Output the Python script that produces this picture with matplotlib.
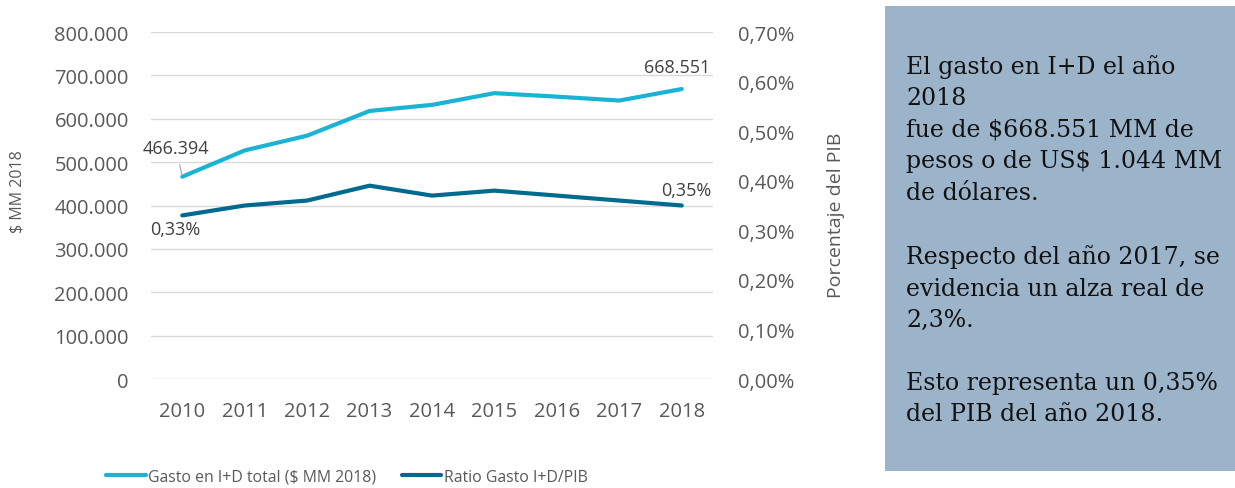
import matplotlib.pyplot as plt
from matplotlib.ticker import FuncFormatter
from matplotlib.patches import Rectangle

years = ["2010", "2011", "2012", "2013", "2014", "2015", "2016", "2017", "2018"]
gasto = [466394, 527000, 561000, 618000, 632000, 659000, 651000, 642000, 668551]
ratio = [0.0033, 0.0035, 0.0036, 0.0039, 0.0037, 0.0038, 0.0037, 0.0036, 0.0035]

C_GASTO = "#1AB3D3"
C_RATIO = "#006B8F"
C_TEXT = "#595959"
C_GRID = "#D9D9D9"
SANS = "Open Sans"

fig = plt.figure(figsize=(12.35, 4.89), dpi=100)
ax = fig.add_axes([0.1223, 0.2229, 0.4550, 0.7096])
ax2 = ax.twinx()

x = list(range(len(years)))
ax.plot(x, gasto, color=C_GASTO, lw=3, solid_capstyle="round",
        label="Gasto en I+D total ($ MM 2018)")
ax2.plot(x, ratio, color=C_RATIO, lw=3, solid_capstyle="round",
         label="Ratio Gasto I+D/PIB")

ax.set_xlim(-0.5, len(years) - 0.5)
ax.set_ylim(0, 800000)
ax.set_yticks(range(0, 800001, 100000))
ax.yaxis.set_major_formatter(FuncFormatter(
    lambda v, p: f"{int(v):,}".replace(",", ".")))
ax2.set_ylim(0, 0.007)
ax2.set_yticks([i / 1000 for i in range(8)])
ax2.yaxis.set_major_formatter(FuncFormatter(
    lambda v, p: f"{v * 100:.2f}%".replace(".", ",")))
ax.set_xticks(x)
ax.set_xticklabels(years)

ax.grid(axis="y", color=C_GRID, lw=1)
ax.set_axisbelow(True)
for a in (ax, ax2):
    for s in a.spines.values():
        s.set_visible(False)
    a.tick_params(length=0, labelsize=14.5, labelcolor=C_TEXT)
    for lab in a.get_xticklabels() + a.get_yticklabels():
        lab.set_fontfamily(SANS)
ax.tick_params(axis="y", pad=16)
ax.tick_params(axis="x", pad=16)
ax2.tick_params(axis="y", pad=18)

ax.set_ylabel("$ MM 2018", fontsize=11.5, color=C_TEXT, family=SANS)
ax.yaxis.set_label_coords(-0.224, 0.542)
ax2.set_ylabel("Porcentaje del PIB", fontsize=14, color=C_TEXT, family=SANS)
ax2.yaxis.set_label_coords(1.203, 0.476)

# data labels
lab_kw = dict(textcoords="offset points", ha="center", va="center",
              fontsize=13, color="#404040", family=SANS)
ax.annotate("466.394", (0, gasto[0]), xytext=(-4.5, 21),
            arrowprops=dict(arrowstyle="-", color="#A6A6A6", lw=0.8,
                            shrinkA=4, shrinkB=1), **lab_kw)
ax.annotate("668.551", (8, gasto[-1]), xytext=(-3.5, 16), **lab_kw)
ax2.annotate("0,33%", (0, ratio[0]), xytext=(-5, -10), **lab_kw)
ax2.annotate("0,35%", (8, ratio[-1]), xytext=(3.5, 11.5), **lab_kw)

h1, l1 = ax.get_legend_handles_labels()
h2, l2 = ax2.get_legend_handles_labels()
fig.legend(h1 + h2, l1 + l2, loc="center", bbox_to_anchor=(0.281, 0.0225),
           ncol=2, frameon=False, handlelength=2.5, handletextpad=0.15,
           columnspacing=1.6, prop={"family": SANS, "size": 11.4},
           labelcolor=C_TEXT)

# side text box
fig.patches.append(Rectangle((885 / 1235, 1 - 472 / 489), 350 / 1235, 465 / 489,
                             transform=fig.transFigure, facecolor="#9BB4C9",
                             edgecolor="none"))
note = ("El gasto en I+D el año\n2018\nfue de $668.551 MM de\n"
        "pesos o de US$ 1.044 MM\nde dólares.\n\n"
        "Respecto del año 2017, se\nevidencia un alza real de\n2,3%.\n\n"
        "Esto representa un 0,35%\ndel PIB del año 2018.")
fig.text(906 / 1235, 1 - 55 / 489, note, ha="left", va="top", fontsize=17,
         family="DejaVu Serif", color="#111111", linespacing=1.47)

fig.savefig("out.png", dpi=100)
